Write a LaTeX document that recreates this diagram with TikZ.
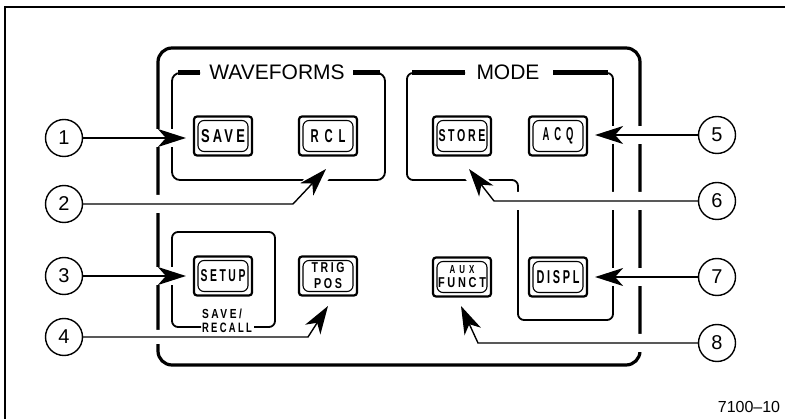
\documentclass[tikz,border=0pt]{standalone}
\usepackage{graphicx}
\usepackage{fontspec}
\setmainfont{Liberation Sans}
\newfontfamily\btnfont{Liberation Sans}[LetterSpace=25]
\usetikzlibrary{arrows.meta}
\pgfdeclarelayer{bg}
\pgfsetlayers{bg,main}
\newcommand\bt[3]{\resizebox{#1pt}{#2pt}{\btnfont\bfseries #3}}
\newcommand\panelbutton[3]{\node[btnout] (#1) at (#2) {}; \node[btnin] at (#2) {#3};}
\begin{document}
\begin{tikzpicture}[x=1pt,y=-1pt,
 btnout/.style={draw, line width=2.2pt, rounded corners=3pt, minimum width=58pt, minimum height=39pt, inner sep=0pt, fill=white},
 btnin/.style={draw, line width=1.1pt, rounded corners=6pt, minimum width=50pt, minimum height=31pt, inner sep=0pt, align=center},
 num/.style={draw, circle, line width=1.4pt, minimum size=37pt, inner sep=0pt, fill=white, font=\fontsize{20}{20}\selectfont},
 grp/.style={line width=1.8pt},
 bar/.style={line width=5pt},
 conn/.style={line width=1.4pt, -{Stealth[length=28pt,width=18pt,inset=8pt]}},
 halo/.style={white, line width=18pt, shorten >=4pt},
 grplabel/.style={font=\fontsize{21}{21}\selectfont, inner sep=0pt, anchor=base}]
\useasboundingbox (0,0) rectangle (785,419);

% buttons
\panelbutton{save}{223,136}{\bt{44}{13}{SAVE}}
\panelbutton{rcl}{328,136}{\bt{35}{13}{R C L}}
\panelbutton{store}{462,136}{\bt{47}{12}{STORE}}
\panelbutton{acq}{558,136}{\bt{31}{13}{A C Q}}
\panelbutton{setup}{223,276}{\bt{45}{12}{SETUP}}
\panelbutton{trig}{328,276}{\bt{33}{10}{TRIG}\\[4pt]\bt{28}{10}{POS}}
\panelbutton{aux}{462,277}{\bt{25}{8}{A U X}\\[2pt]\bt{48}{10}{FUNCT}}
\panelbutton{displ}{558,277}{\bt{43}{13}{DISPL}}

% labels
\node[grplabel] (wf) at (277,80) {WAVEFORMS};
\node[grplabel] (mode) at (508,80) {MODE};
\node[align=left, inner sep=0pt] (sr) at (227,321) {\bt{40}{9.5}{SAVE/}\\[2pt]\bt{50}{9.5}{RECALL}};
\node[font=\fontsize{16}{16}\selectfont, inner sep=0pt] (fig) at (749,407) {7100–10};

% callout circles
\node[num] (c1) at (64,138) {1};
\node[num] (c2) at (64,204) {2};
\node[num] (c3) at (64,276) {3};
\node[num] (c4) at (64,337) {4};
\node[num] (c5) at (717,135) {5};
\node[num] (c6) at (717,201) {6};
\node[num] (c7) at (717,277) {7};
\node[num] (c8) at (717,343) {8};

% bend points and tips
\coordinate (b2) at (293,204); \coordinate (t2) at (326,169);
\coordinate (b4) at (308,337); \coordinate (t4) at (328,306);
\coordinate (b6) at (494,201); \coordinate (t6) at (469,169);
\coordinate (b8) at (478,343); \coordinate (t8) at (461,306);

\begin{pgfonlayer}{bg}
 \draw[line width=1.6pt] (5,419) -- (5,7) -- (785,7);
 \draw[line width=3.2pt, rounded corners=14pt] (158,48) rectangle (640,365);
 % WAVEFORMS group
 \draw[grp, rounded corners=8pt] (200,73) -| (172,180) -| (385,73) -- (353,73);
 \draw[bar] (178,73) -- (200,73);
 \draw[bar] (353,73) -- (380,73);
 % MODE group
 \draw[grp, rounded corners=6pt] (465,73) -| (407,180) -| (518,320) -| (613,73) -- (553,73);
 \draw[bar] (412,73) -- (465,73);
 \draw[bar] (553,73) -- (608,73);
 % SAVE/RECALL group
 \draw[grp, rounded corners=6pt] (201,327) -| (172,232) -| (275,327) -- (254,327);
 % halos that break the lines where the leaders cross
 \draw[halo, shorten >=9pt] (c1) -- (c1 -| save.west);
 \draw[halo] (c2) -- (b2) -- (t2);
 \draw[halo, shorten >=9pt] (c3) -- (c3 -| setup.west);
 \draw[halo, line width=14pt] (c4) -- (b4) -- (t4);
 \draw[halo, shorten >=9pt] (c5) -- (c5 -| acq.east);
 \draw[halo] (c6) -- (b6) -- (t6);
 \draw[halo, shorten >=9pt] (c7) -- (c7 -| displ.east);
 \draw[halo] (c8) -- (b8) -- (t8);
\end{pgfonlayer}

% connectors
\draw[conn, shorten >=7pt] (c1) -- (c1 -| save.west);
\draw[conn] (c2) -- (b2) -- (t2);
\draw[conn, shorten >=7pt] (c3) -- (c3 -| setup.west);
\draw[conn] (c4) -- (b4) -- (t4);
\draw[conn, shorten >=7pt] (c5) -- (c5 -| acq.east);
\draw[conn] (c6) -- (b6) -- (t6);
\draw[conn, shorten >=7pt] (c7) -- (c7 -| displ.east);
\draw[conn] (c8) -- (b8) -- (t8);
\end{tikzpicture}
\end{document}
